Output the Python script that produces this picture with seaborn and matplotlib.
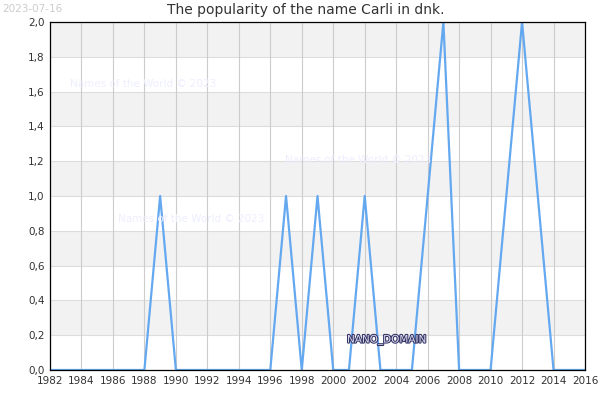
import numpy as np
import pandas as pd
import seaborn as sns
import matplotlib.pyplot as plt
import matplotlib.patheffects as pe

# Dados
anos = list(range(1982, 2017))
valores = [0, 0, 0, 0, 0, 0, 0, 1, 0, 0,
           0, 0, 0, 0, 0, 1, 0, 1, 0, 0,
           1, 0, 0, 0, 1, 2, 0, 0, 0, 1,
           2, 1, 0, 0, 0]
yticks = [0.0, 0.2, 0.4, 0.6, 0.8, 1.0, 1.2, 1.4, 1.6, 1.8, 2.0]
xticks = list(range(1982, 2017, 2))

df = pd.DataFrame({'ano': anos, 'valor': valores})

sns.set_style('white')
plt.rcParams['font.family'] = ['DejaVu Sans']

fig = plt.figure(figsize=(6, 4), dpi=100)
ax = fig.add_axes([50 / 600, 30 / 400, 535 / 600, 348 / 400])

# Faixas alternadas
for i in range(len(yticks) - 1):
    if i % 2 == 1:
        ax.axhspan(yticks[i], yticks[i + 1], color='#f2f2f2', zorder=0, lw=0)

for y in yticks:
    ax.axhline(y, color='#dddddd', lw=0.8, zorder=1)
for x in xticks:
    ax.axvline(x, color='#cccccc', lw=0.8, zorder=1)

sns.lineplot(data=df, x='ano', y='valor', ax=ax, color='#64a8f0', lw=1.6, zorder=3)

ax.set_xlim(1982, 2016)
ax.set_ylim(0, 2.0)
ax.set_xticks(xticks)
ax.set_xticklabels([str(x) for x in xticks], fontsize=7.5, color='#333333')
ax.set_yticks(yticks)
ax.set_yticklabels([f'{y:.1f}'.replace('.', ',') for y in yticks], fontsize=7.5, color='#333333')
ax.tick_params(length=0, pad=4)
ax.set_xlabel('')
ax.set_ylabel('')
for s in ax.spines.values():
    s.set_color('black')
    s.set_linewidth(0.9)
    s.set_zorder(4)

fig.text(306 / 600, 1 - 10 / 400, 'The popularity of the name Carli in dnk.', fontsize=10,
         color='#333333', ha='center', va='center')

# Marcas d'água
fig.text(2 / 600, 1 - 4 / 400, '2023-07-16', fontsize=7.5, color='#cccccc', va='top', ha='left')
for (tx, ty) in [(70, 84), (285, 160), (118, 219)]:
    fig.text(tx / 600, 1 - ty / 400, 'Names of the World © 2023', fontsize=7.5,
             color='#eeeeff', va='center', ha='left', zorder=2)
t = fig.text(347 / 600, 1 - 340 / 400, 'NANO_DOMAIN', fontsize=7.5, color='#ddddee',
             va='center', ha='left', zorder=5)
t.set_path_effects([pe.Stroke(linewidth=1.5, foreground='#333366'), pe.Normal()])

fig.savefig('out.png', dpi=100)
